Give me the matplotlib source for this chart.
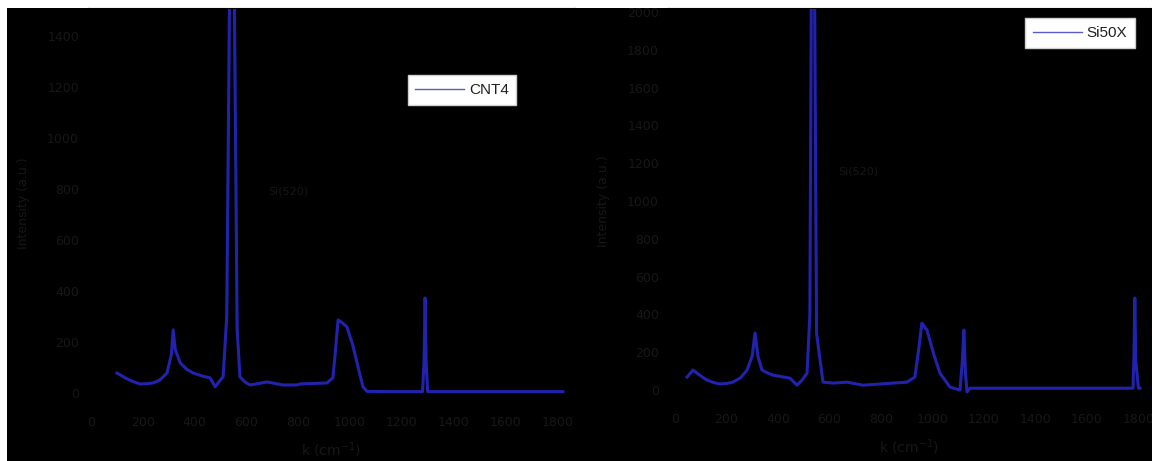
import matplotlib
matplotlib.use("Agg")
import matplotlib.pyplot as plt
from matplotlib.lines import Line2D
from matplotlib.patches import Rectangle

# Raman spectra (wavenumber in cm^-1, intensity in counts)
cnt4_shift = [100, 130, 160, 189, 215, 239, 265, 293, 310, 317, 325, 344, 370,
              394, 430, 459, 479, 495, 510, 524, 536, 544, 552, 564, 575, 595,
              614, 680, 741, 795, 807, 911, 934, 945, 954, 970, 988, 1010,
              1027, 1050, 1066, 1150, 1280, 1286, 1290, 1294, 1300, 1500, 1700,
              1822]
cnt4_int = [78, 60, 45, 35, 36, 39, 50, 78, 150, 247, 170, 118, 92,
            78, 66, 59, 24, 45, 63, 300, 1700, 4000, 1700, 250, 63, 42,
            31, 43, 31, 31, 35, 39, 59, 180, 286, 275, 259, 190,
            118, 24, 6, 5, 5, 120, 372, 120, 5, 5, 5,
            5]

si50x_shift = [47, 70, 95, 124, 150, 175, 200, 225, 255, 280, 300, 311, 322,
               338, 360, 381, 447, 474, 495, 513, 524, 530, 536, 542, 550, 575,
               614, 668, 730, 796, 901, 932, 948, 959, 979, 1005, 1029, 1068,
               1107, 1116, 1122, 1128, 1134, 1146, 1400, 1779, 1783, 1786, 1790,
               1800, 1806]
si50x_int = [69, 106, 80, 53, 40, 32, 35, 42, 65, 106, 180, 302, 180,
             106, 90, 79, 63, 26, 55, 90, 400, 2200, 5000, 2200, 300, 42,
             37, 42, 26, 32, 42, 69, 230, 354, 317, 190, 90, 16,
             0, 150, 317, 100, -10, 10, 10, 10, 200, 487, 150,
             10, 10]

x_ticks = [0, 200, 400, 600, 800, 1000, 1200, 1400, 1600, 1800]
cnt4_yticks = [0, 200, 400, 600, 800, 1000, 1200, 1400]
si50x_yticks = [0, 200, 400, 600, 800, 1000, 1200, 1400, 1600, 1800, 2000]

line_color = "#2222ae"
text_color = "#171717"

W, H = 1152, 461
fig = plt.figure(figsize=(W / 100, H / 100), dpi=100, facecolor="black")
fig.patches.append(Rectangle((0, 1 - 8 / H), 1, 8 / H, transform=fig.transFigure,
                             facecolor="white", edgecolor="none", zorder=-1))
fig.patches.append(Rectangle((0, 0), 7 / W, 1, transform=fig.transFigure,
                             facecolor="white", edgecolor="none", zorder=-1))


def px_axes(left, right, top, bottom):
    return fig.add_axes([left / W, 1 - bottom / H, (right - left) / W, (bottom - top) / H])


def style(ax, yticks, ylabelpad):
    ax.set_facecolor("black")
    for s in ax.spines.values():
        s.set_color("black")
    ax.set_xticks(x_ticks)
    ax.set_yticks(yticks)
    ax.tick_params(colors="black", labelcolor=text_color, labelsize=9, length=3)
    ax.tick_params(axis="x", pad=10)
    ax.set_xlabel("k (cm$^{-1}$)", color=text_color, fontsize=10, labelpad=8)
    ax.set_ylabel("Intensity (a.u.)", color=text_color, fontsize=9, labelpad=ylabelpad)


ax1 = px_axes(88, 575, 8, 398)
ax1.plot(cnt4_shift, cnt4_int, color=line_color, lw=2.2)
ax1.set_xlim(-12, 1869)
ax1.set_ylim(-20, 1509)
style(ax1, cnt4_yticks, 12)
ax1.text(760, 790, "Si(520)", color=text_color, fontsize=8, ha="center", va="center")

ax2 = px_axes(668, 1150, 8, 395)
ax2.plot(si50x_shift, si50x_int, color=line_color, lw=2.2)
ax2.set_xlim(-27, 1845)
ax2.set_ylim(-26, 2021)
style(ax2, si50x_yticks, 12)
ax2.text(712, 1155, "Si(520)", color=text_color, fontsize=8, ha="center", va="center")


def add_legend(ax, label, cx, cy):
    h = Line2D([], [], color="#5a5ac8", lw=1)
    leg = ax.legend([h], [label], loc="center", bbox_to_anchor=(cx / W, 1 - cy / H),
                    bbox_transform=fig.transFigure, frameon=True, fancybox=False,
                    handlelength=3.2, handletextpad=0.3, borderpad=0.5,
                    prop={"family": "Liberation Sans", "size": 11})
    fr = leg.get_frame()
    fr.set_facecolor("white")
    fr.set_edgecolor("#cfcfcf")
    fr.set_alpha(1)
    leg.get_texts()[0].set_color("#202020")


add_legend(ax1, "CNT4", 462, 90)
add_legend(ax2, "Si50X", 1080, 33)

fig.savefig("out.png", dpi=100, facecolor=fig.get_facecolor())
